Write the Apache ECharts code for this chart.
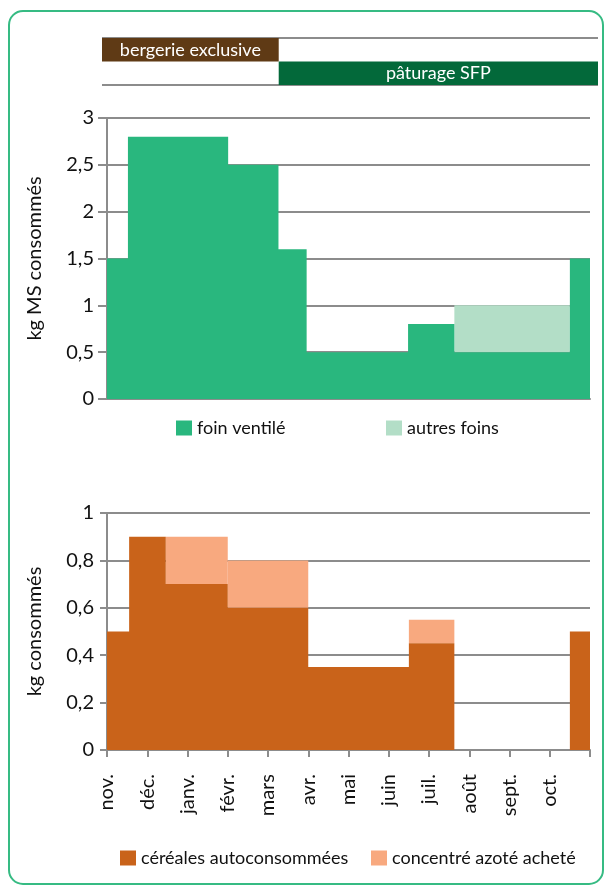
<!DOCTYPE html>
<html>
<head>
<meta charset="utf-8">
<script src="https://cdn.jsdelivr.net/npm/echarts@6/dist/echarts.min.js"></script>
<style>html,body{margin:0;padding:0;background:#fff}#c{width:606px;height:888px}</style>
</head>
<body>
<div id="c"></div>
<script>
// ---- data ----
const months = ['nov.', 'déc.', 'janv.', 'févr.', 'mars', 'avr.', 'mai', 'juin', 'juil.', 'août', 'sept.', 'oct.'];
// top band (periods, in months from 1 Nov)
const phaseNames = ['bergerie exclusive', 'pâturage SFP'];
const phaseStart = [-0.13, 4.27];
const phaseEnd = [4.27, 12.22];
const phaseRow = [0, 1];
// forage (kg MS)
const hayBreaks = [0, 0.52, 3.01, 4.26, 4.96, 7.48, 8.63, 11.5, 12];
const foinVentile = [1.5, 2.8, 2.5, 1.6, 0.5, 0.8, 0.5, 1.5];
const autresFoins = [0, 0, 0, 0, 0, 0, 0.5, 0];
// concentrates (kg)
const concBreaks = [0, 0.55, 1.46, 3.0, 5.0, 7.5, 8.63, 11.5, 12];
const cereales = [0.5, 0.9, 0.7, 0.6, 0.35, 0.45, 0, 0.5];
const concentre = [0, 0, 0.2, 0.2, 0, 0.1, 0, 0];

// ---- styles ----
const FONT = 'Lato';
const GRAY = '#8c8c8c';
const TXT = '#111111';
const C = {
  brown: '#5f3a15', dkgreen: '#03693a', green: '#29b77e', ltgreen: '#b3dec7',
  orange: '#c9631a', ltorange: '#f8a97f', border: '#36bb83'
};

function stepPoints(breaks, vals) {
  return breaks.map((b, i) => [b, vals[Math.min(i, vals.length - 1)]]);
}
function overlayRects(breaks, base, extra) {
  const out = [];
  extra.forEach((e, i) => { if (e > 0) out.push([breaks[i], breaks[i + 1], base[i], base[i] + e]); });
  return out;
}
const fmt = v => String(v).replace('.', ',');
function rectItem(params, api) {
  const p0 = api.coord([api.value(0), api.value(3)]);
  const p1 = api.coord([api.value(1), api.value(2)]);
  return { type: 'rect', shape: { x: p0[0], y: p0[1], width: p1[0] - p0[0], height: p1[1] - p0[1] }, style: api.style() };
}

const yAxisCommon = (min, max, interval, name, gap, tickLen) => ({
  type: 'value', min, max, interval,
  name, nameLocation: 'middle', nameRotate: 90, nameGap: gap,
  nameTextStyle: { fontFamily: FONT, fontSize: 20, color: TXT },
  axisLine: { show: true, lineStyle: { color: GRAY, width: 2 } },
  axisTick: { show: true, length: tickLen, lineStyle: { color: GRAY, width: 2 } },
  splitLine: { show: true, lineStyle: { color: GRAY, width: 2 } },
  axisLabel: { fontFamily: FONT, fontSize: 20, color: TXT, margin: 13, formatter: fmt }
});

const legendCommon = (name, left, top) => ({
  data: [name], left, top, icon: 'rect', itemWidth: 16, itemHeight: 15,
  selectedMode: false, padding: 0,
  textStyle: { fontFamily: FONT, fontSize: 18, color: TXT }
});

const chart = echarts.init(document.getElementById('c'), null, { renderer: 'canvas' });
chart.setOption({
  animation: false,
  backgroundColor: '#fff',
  graphic: [{
    type: 'rect', shape: { x: 9, y: 11, width: 594, height: 873, r: 14 },
    style: { fill: 'none', stroke: C.border, lineWidth: 2 }, z: -1
  }],
  grid: [
    { left: 107, right: 16, top: 118, height: 281 },
    { left: 107, right: 16, top: 513, height: 237 },
    { left: 102, right: 8, top: 38, height: 47 }
  ],
  xAxis: [
    { gridIndex: 0, type: 'value', min: 0, max: 12, interval: 1,
      axisLine: { show: true, lineStyle: { color: GRAY, width: 2 } },
      axisTick: { show: false }, axisLabel: { show: false }, splitLine: { show: false } },
    { gridIndex: 1, type: 'value', min: 0, max: 12, interval: 1,
      axisLine: { show: true, lineStyle: { color: GRAY, width: 2 } },
      axisTick: { show: true, length: 7, lineStyle: { color: GRAY, width: 2 } },
      splitLine: { show: false },
      axisLabel: { rotate: 90, margin: 24, fontFamily: FONT, fontSize: 20, color: TXT,
        padding: [10, 0, 0, 0],
        formatter: v => months[v] || '' } },
    { gridIndex: 2, type: 'value', min: -0.13, max: 12.22, show: false }
  ],
  yAxis: [
    Object.assign(yAxisCommon(0, 3, 0.5, 'kg MS consommés', 62, 9), { gridIndex: 0 }),
    Object.assign(yAxisCommon(0, 1, 0.2, 'kg consommés', 62, 7), { gridIndex: 1 }),
    { gridIndex: 2, type: 'value', min: 0, max: 2, interval: 2, inverse: true,
      axisLine: { show: false }, axisTick: { show: false }, axisLabel: { show: false },
      splitLine: { show: true, lineStyle: { color: GRAY, width: 2 } } }
  ],
  legend: [
    legendCommon('foin ventilé', 176, 419),
    legendCommon('autres foins', 386, 419),
    legendCommon('céréales autoconsommées', 120, 849),
    legendCommon('concentré azoté acheté', 371, 849)
  ],
  series: [
    { type: 'line', name: 'foin ventilé', xAxisIndex: 0, yAxisIndex: 0, step: 'end',
      data: stepPoints(hayBreaks, foinVentile), symbol: 'none', silent: true,
      lineStyle: { width: 0, color: C.green }, itemStyle: { color: C.green },
      areaStyle: { color: C.green, opacity: 1 } },
    { type: 'custom', name: 'autres foins', xAxisIndex: 0, yAxisIndex: 0,
      data: overlayRects(hayBreaks, foinVentile, autresFoins), renderItem: rectItem,
      itemStyle: { color: C.ltgreen }, silent: true },
    { type: 'line', name: 'céréales autoconsommées', xAxisIndex: 1, yAxisIndex: 1, step: 'end',
      data: stepPoints(concBreaks, cereales), symbol: 'none', silent: true,
      lineStyle: { width: 0, color: C.orange }, itemStyle: { color: C.orange },
      areaStyle: { color: C.orange, opacity: 1 } },
    { type: 'custom', name: 'concentré azoté acheté', xAxisIndex: 1, yAxisIndex: 1,
      data: overlayRects(concBreaks, cereales, concentre), renderItem: rectItem,
      itemStyle: { color: C.ltorange }, silent: true },
    { type: 'custom', name: 'phases', xAxisIndex: 2, yAxisIndex: 2, silent: true,
      data: phaseNames.map((n, i) => [phaseStart[i], phaseEnd[i], phaseRow[i]]),
      renderItem: (params, api) => {
        const i = params.dataIndex;
        const a = api.coord([api.value(0), api.value(2)]);
        const b = api.coord([api.value(1), api.value(2) + 1]);
        return { type: 'group', children: [
          { type: 'rect', shape: { x: a[0], y: a[1], width: b[0] - a[0], height: b[1] - a[1] },
            style: { fill: i === 0 ? C.brown : C.dkgreen } },
          { type: 'text', style: { text: phaseNames[i], x: (a[0] + b[0]) / 2, y: (a[1] + b[1]) / 2,
            fill: '#fff', font: '18px ' + FONT, align: 'center', verticalAlign: 'middle' } }
        ] };
      } }
  ]
});
</script>
</body>
</html>
